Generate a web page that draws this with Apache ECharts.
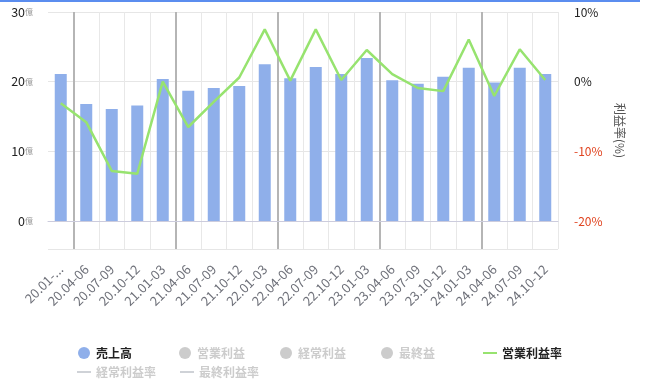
<!DOCTYPE html>
<html><head><meta charset="utf-8">
<script src="https://cdn.jsdelivr.net/npm/echarts@6/dist/echarts.min.js"></script>
<style>html,body{margin:0;padding:0;background:#fff}#c{width:656px;height:391px}</style>
</head><body><div id="c"></div>
<script>
const categories = ['20.01-03','20.04-06','20.07-09','20.10-12','21.01-03','21.04-06','21.07-09','21.10-12','22.01-03','22.04-06','22.07-09','22.10-12','23.01-03','23.04-06','23.07-09','23.10-12','24.01-03','24.04-06','24.07-09','24.10-12'];
const sales = [21.1,16.8,16.1,16.6,20.4,18.7,19.1,19.4,22.5,20.5,22.1,21.1,23.4,20.2,19.7,20.7,22.0,19.9,22.0,21.1];
const opMargin = [-3.1,-5.8,-12.8,-13.2,0.0,-6.5,-2.9,0.6,7.5,0.15,7.5,0.25,4.55,1.1,-0.9,-1.35,6.05,-2.05,4.65,0.25];
const opProfit = [];
const ordProfit = [];
const netProfit = [];
const ordMargin = [];
const netMargin = [];
const leftTicks = [0,10,20,30];
const rightTicks = [-20,-10,0,10];

const chart = echarts.init(document.getElementById('c'));
const FONT = '"Noto Sans CJK JP", "Noto Sans", sans-serif';
const noSym = {opacity:0};
chart.setOption({
  animation:false,
  textStyle:{fontFamily:FONT},
  graphic:[{type:'rect',left:0,top:0,shape:{width:640,height:2},style:{fill:'#5b8def'}}],
  grid:{left:48,right:98,top:12,bottom:142},
  legend:{
    left:71, top:341, width:530, itemGap:5, itemWidth:14, itemHeight:12,
    inactiveColor:'#ccc',
    textStyle:{fontSize:12, fontWeight:'bold', color:'#222', width:78, lineHeight:14},
    data:[{name:'売上高',icon:'circle'},{name:'営業利益',icon:'circle'},{name:'経常利益',icon:'circle'},{name:'最終益',icon:'circle'},
      {name:'営業利益率',itemStyle:noSym},{name:'経常利益率',itemStyle:noSym},{name:'最終利益率',itemStyle:noSym}],
    selected:{'営業利益':false,'経常利益':false,'最終益':false,'経常利益率':false,'最終利益率':false}
  },
  xAxis:[{
    type:'category', data:categories,
    axisLine:{lineStyle:{color:'#ccd'}}, axisTick:{show:false},
    axisLabel:{rotate:45, fontSize:13, color:'#6e7079', margin:18, interval:0,
      formatter:(v,i)=> i===0 ? v.slice(0,6)+'...' : v},
    splitLine:{show:true, showMinLine:false, lineStyle:{color:'#e8e8e8',width:1}}
  },{
    type:'category', data:categories, position:'bottom',
    axisLine:{show:false}, axisTick:{show:false}, axisLabel:{show:false},
    splitLine:{show:true, showMaxLine:false, interval:(i,v)=>String(v).indexOf('.04-06')>=0, lineStyle:{color:'#b5b5b5',width:2}}
  }],
  yAxis:[{
    type:'value', min:-4, max:30, splitNumber:3,
    axisLine:{show:false}, axisTick:{show:false},
    splitLine:{lineStyle:{color:'#e6e6e6'}},
    axisLabel:{margin:15, formatter:v=> leftTicks.indexOf(v)>=0 ? '{n|'+v+'}{u|億}' : '',
      rich:{n:{fontSize:12.5,color:'#222'},u:{fontSize:8,color:'#999'}}}
  },{
    type:'value', min:-24, max:10, splitNumber:3, position:'right',
    name:'利益率(%)', nameLocation:'middle', nameRotate:-90, nameGap:48,
    nameTextStyle:{fontSize:12,color:'#555'},
    axisLine:{show:false}, axisTick:{show:false}, splitLine:{show:false},
    axisLabel:{margin:16, fontSize:12, formatter:v=> rightTicks.indexOf(v)>=0 ? v+'%' : '',
      color:v=> Number(v)<0 ? '#e0431f' : '#222'}
  }],
  series:[
    {name:'売上高', type:'bar', data:sales, barWidth:12, itemStyle:{color:'#8fafea'}},
    {name:'営業利益', type:'bar', data:opProfit, itemStyle:{color:'#f5a55b'}},
    {name:'経常利益', type:'bar', data:ordProfit, itemStyle:{color:'#6bc2a3'}},
    {name:'最終益', type:'bar', data:netProfit, itemStyle:{color:'#e47c8a'}},
    {name:'営業利益率', type:'line', yAxisIndex:1, data:opMargin, symbol:'none', lineStyle:{color:'#97e36f',width:2.5}, itemStyle:{color:'#97e36f'}, z:5},
    {name:'経常利益率', type:'line', yAxisIndex:1, data:ordMargin, symbol:'none', lineStyle:{width:2.5}},
    {name:'最終利益率', type:'line', yAxisIndex:1, data:netMargin, symbol:'none', lineStyle:{width:2.5}}
  ]
});
</script></body></html>
